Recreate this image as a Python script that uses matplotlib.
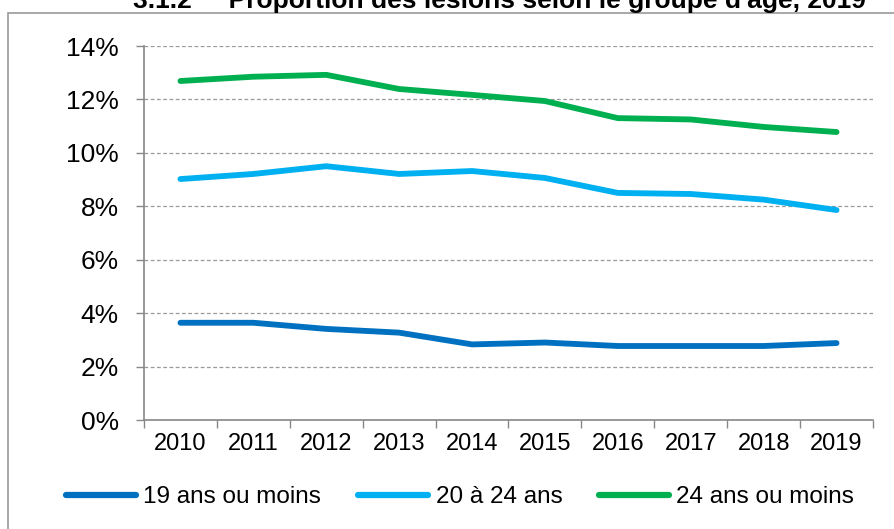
import matplotlib
matplotlib.use("Agg")
import matplotlib.pyplot as plt
from matplotlib.patches import Rectangle

plt.rcParams['font.family'] = ['Liberation Sans', 'DejaVu Sans']

years = ['2010', '2011', '2012', '2013', '2014', '2015', '2016', '2017', '2018', '2019']
s19 = [3.64, 3.64, 3.41, 3.27, 2.83, 2.90, 2.77, 2.77, 2.77, 2.88]
s20_24 = [9.02, 9.21, 9.50, 9.21, 9.32, 9.06, 8.50, 8.46, 8.25, 7.86]
s24 = [12.69, 12.85, 12.92, 12.39, 12.17, 11.94, 11.30, 11.25, 10.97, 10.78]
series_names = ['19 ans ou moins', '20 à 24 ans', '24 ans ou moins']
colors = ['#0070C0', '#00B0F0', '#00B050']
title = "3.1.2     Proportion des lésions selon le groupe d'âge, 2019"

W, H = 895, 529
fig = plt.figure(figsize=(W/100, H/100), dpi=100)
ax = fig.add_axes([144/W, 1-420/H, (873-144)/W, (420-46)/H])

x = list(range(len(years)))
for vals, name, c in zip([s19, s20_24, s24], series_names, colors):
    ax.plot(x, vals, color=c, lw=4.2, solid_capstyle='round', solid_joinstyle='round', label=name)

ax.set_xlim(-0.5, len(years)-0.5)
ax.set_ylim(0, 14)
ax.set_yticks(range(0, 15, 2))
ax.set_yticklabels([f"{v}%" for v in range(0, 15, 2)], fontsize=19)
ax.set_xticks(x)
ax.set_xticklabels(years, fontsize=17)
ax.set_xticks([i - 0.5 for i in range(len(years)+1)], minor=True)
ax.tick_params(axis='x', which='major', length=0, pad=9)
ax.tick_params(axis='x', which='minor', length=6, color='#888888', width=1)
ax.tick_params(axis='y', length=6, color='#888888', width=1, pad=12)
ax.grid(axis='y', linestyle=(0, (3, 2)), color='#999999', lw=0.9)
ax.set_axisbelow(True)
for s in ['top', 'right']:
    ax.spines[s].set_visible(False)
for s in ['left', 'bottom']:
    ax.spines[s].set_color('#888888')
    ax.spines[s].set_linewidth(1.2)

leg = fig.legend(loc='center', bbox_to_anchor=(460/W, 1-497/H), ncol=3, frameon=False,
                 fontsize=17.5, handlelength=2.9, handletextpad=0.3, columnspacing=1.5,
                 borderpad=0, borderaxespad=0)
for l in leg.get_lines():
    l.set_linewidth(4.5)

fig.add_artist(Rectangle((8/W, -0.1), 1.2, 1-13/H+0.1, transform=fig.transFigure,
                         fill=False, edgecolor='#999999', lw=1.2))
fig.text(133/W, 1-8/H, title, ha='left', va='baseline', fontsize=19, fontweight='bold')

fig.savefig('out.png', dpi=100)
